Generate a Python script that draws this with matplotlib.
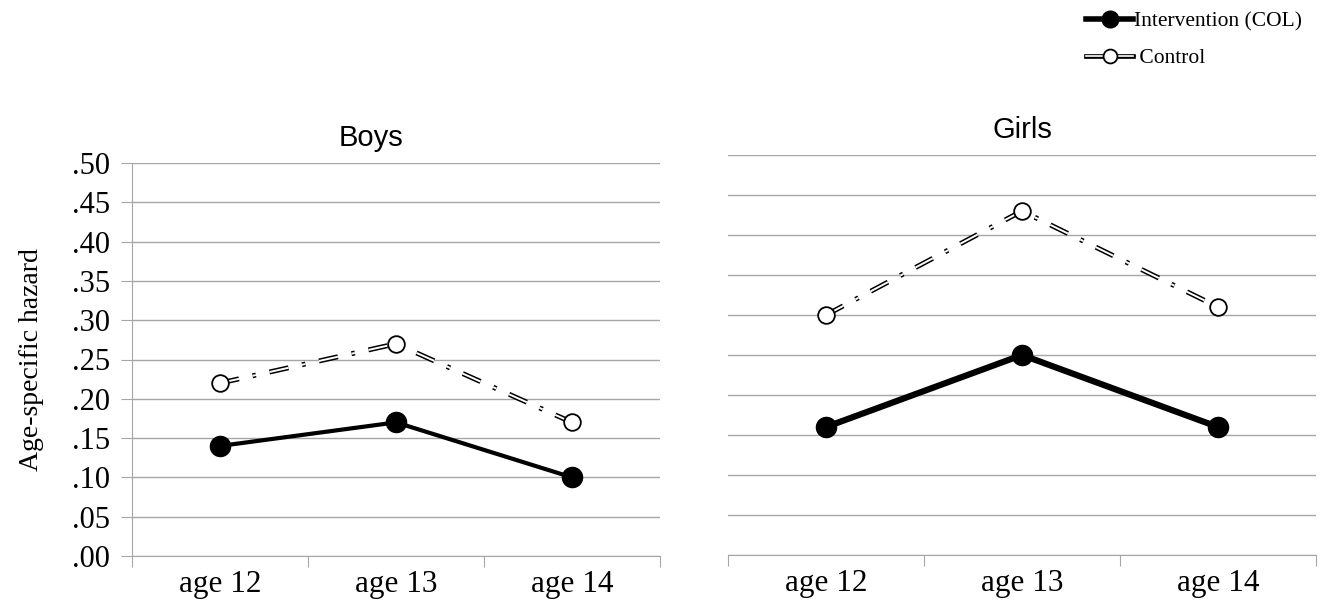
import matplotlib
matplotlib.use("Agg")
import matplotlib.pyplot as plt
from matplotlib.lines import Line2D
from matplotlib.legend_handler import HandlerTuple

plt.rcParams['lines.scale_dashes'] = False

categories = ["age 12", "age 13", "age 14"]
boys_intervention = [0.14, 0.17, 0.10]
boys_control = [0.22, 0.27, 0.17]
girls_intervention = [0.16, 0.25, 0.16]
girls_control = [0.30, 0.43, 0.31]
yticks = [0.0, 0.05, 0.10, 0.15, 0.20, 0.25, 0.30, 0.35, 0.40, 0.45, 0.50]
ytick_labels = [".00", ".05", ".10", ".15", ".20", ".25", ".30", ".35", ".40", ".45", ".50"]

W, H = 1324, 614
fig = plt.figure(figsize=(W / 100, H / 100), dpi=100)

serif = "Liberation Serif"
sans = "Liberation Sans"
grid_c = "#a6a6a6"
dash = (0, (14, 10, 2.5, 10))


def box(l, r, t, b):
    return [l / W, 1 - b / H, (r - l) / W, (b - t) / H]


ax_b = fig.add_axes(box(132, 660, 163, 556))
ax_g = fig.add_axes(box(728, 1316, 155, 555))


def style(ax, title, show_y, title_x):
    x = list(range(len(categories)))
    ax.set_xlim(-0.5, len(categories) - 0.5)
    ax.set_ylim(0, 0.5)
    ax.set_yticks(yticks)
    ax.yaxis.grid(True, color=grid_c, lw=1.0)
    ax.set_axisbelow(True)
    for s in ["top", "right"]:
        ax.spines[s].set_visible(False)
    ax.spines["bottom"].set_color(grid_c)
    ax.spines["left"].set_color(grid_c)
    ax.set_xticks([i - 0.5 for i in range(len(categories) + 1)])
    ax.set_xticklabels([])
    ax.set_xticks(x, minor=True)
    ax.set_xticklabels(categories, minor=True, fontfamily=serif, fontsize=22.5)
    ax.tick_params(axis="x", which="major", length=8, color=grid_c)
    ax.tick_params(axis="x", which="minor", length=0, pad=10)
    if show_y:
        ax.set_yticklabels(ytick_labels, fontfamily=serif, fontsize=22)
        ax.tick_params(axis="y", length=8, color=grid_c, pad=8)
        ax.set_ylabel("Age-specific hazard", fontfamily=serif, fontsize=20, labelpad=20)
    else:
        ax.spines["left"].set_visible(False)
        ax.tick_params(axis="y", length=0, labelleft=False)
    ax.set_title(title, fontfamily=sans, fontsize=21, pad=12, x=title_x)
    return x


x = style(ax_b, "Boys", True, (371 - 132) / (660 - 132))
ax_b.plot(x, boys_control, color="black", lw=3.6, ls=dash, zorder=3)
ax_b.plot(x, boys_control, color="white", lw=1.4, ls=dash, zorder=4)
ax_b.plot(x, boys_control, ls="none", marker="o", ms=12, mfc="white", mec="black", mew=1.3, zorder=5)
ax_b.plot(x, boys_intervention, color="black", lw=3, marker="o", ms=14.5, zorder=6)

x = style(ax_g, "Girls", False, 0.5)
ax_g.plot(x, girls_control, color="black", lw=3.6, ls=dash, zorder=3)
ax_g.plot(x, girls_control, color="white", lw=1.4, ls=dash, zorder=4)
ax_g.plot(x, girls_control, ls="none", marker="o", ms=12, mfc="white", mec="black", mew=1.3, zorder=5)
ax_g.plot(x, girls_intervention, color="black", lw=4.5, marker="o", ms=14.5, zorder=6)

h_int = Line2D([], [], color="black", lw=4, marker="o", ms=12)
h_c1 = Line2D([], [], color="black", lw=3.4)
h_c2 = Line2D([], [], color="white", lw=1.2)
h_c3 = Line2D([], [], ls="none", marker="o", ms=10, mfc="white", mec="black", mew=1.3)
fig.legend([h_int, (h_c1, h_c2, h_c3)],
           ["Intervention (COL)", " Control"],
           handler_map={tuple: HandlerTuple(ndivide=1, pad=0)},
           loc="upper left", bbox_to_anchor=(1074 / W, 1.0), frameon=False,
           prop={"family": serif, "size": 15.5}, handlelength=2.2, handletextpad=0.05,
           labelspacing=0.75, borderaxespad=0.35, borderpad=0.2)

fig.savefig("out.png", dpi=100)
